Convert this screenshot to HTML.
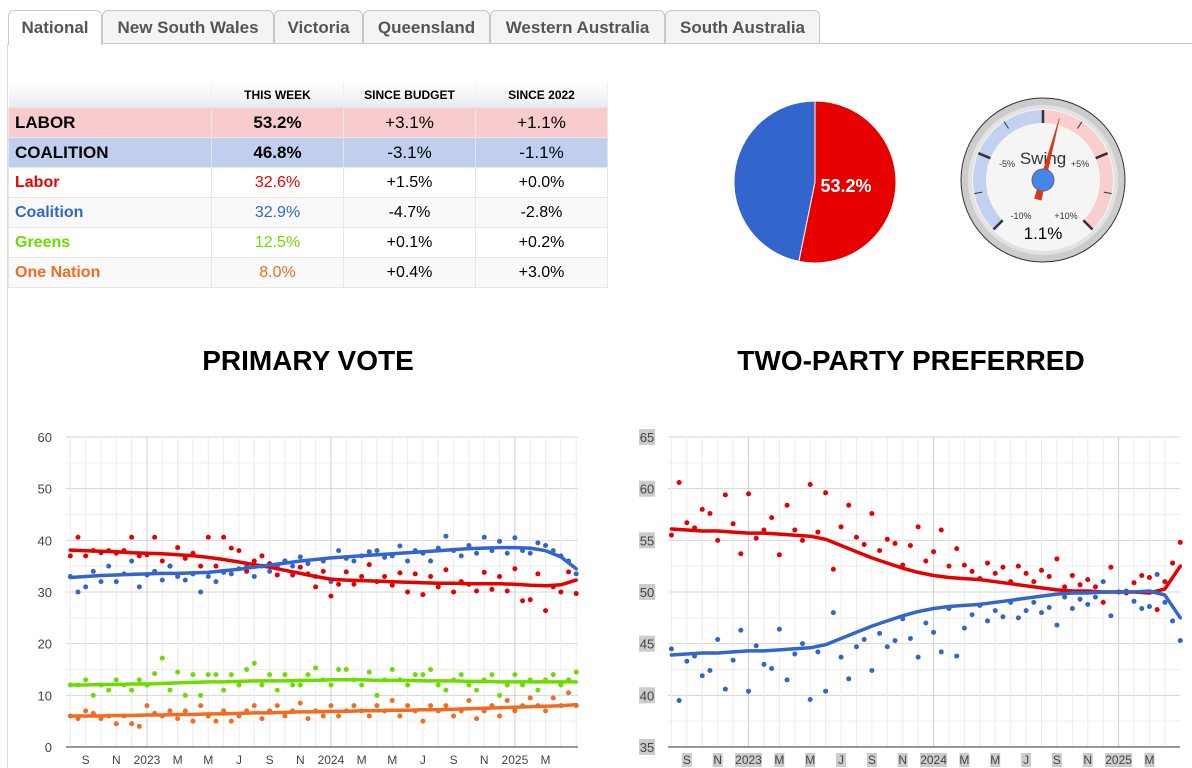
<!DOCTYPE html>
<html><head><meta charset="utf-8">
<style>
body{margin:0;width:1192px;height:768px;overflow:hidden;background:#fff;font-family:"Liberation Sans",Arial,sans-serif;position:relative}
.tab{position:absolute;top:10px;height:33px;border:1px solid #c8c8c8;border-bottom:none;border-radius:6px 6px 0 0;background:#f4f4f4;color:#555;font-weight:bold;font-size:17px;line-height:33px;text-align:center;box-sizing:border-box}
.tab.act{background:#fff;height:35px}
table{position:absolute;left:8px;top:83px;border-collapse:collapse;font-size:16px;table-layout:fixed;width:599px}
td{height:30px;border:1px solid #e6e6e6;text-align:center;padding:0;box-sizing:border-box}
td:first-child{text-align:left;padding-left:6px;font-weight:bold}
th{height:24px;font-size:12px;background:linear-gradient(#fff,#e8ecf3);border-right:1px solid #eee;padding:0}
.ttl{position:absolute;top:345px;font-weight:bold;font-size:28px;text-align:center;width:400px}
svg{position:absolute;left:0;top:0}
</style></head><body>
<div class="tab act" style="left:8px;width:94px">National</div>
<div class="tab" style="left:102px;width:172px">New South Wales</div>
<div class="tab" style="left:274px;width:89px">Victoria</div>
<div class="tab" style="left:363px;width:127px">Queensland</div>
<div class="tab" style="left:490px;width:175px">Western Australia</div>
<div class="tab" style="left:665px;width:155px">South Australia</div>
<div style="position:absolute;left:102px;top:43px;width:1090px;height:1px;background:#c8c8c8"></div>
<div style="position:absolute;left:7px;top:43px;width:1px;height:725px;background:#ddd"></div>

<table>
<colgroup><col style="width:203px"><col style="width:132px"><col style="width:132px"><col style="width:132px"></colgroup>
<tr><th></th><th>THIS WEEK</th><th>SINCE BUDGET</th><th>SINCE 2022</th></tr>
<tr style="background:#f8cccc;font-size:17px"><td>LABOR</td><td><b>53.2%</b></td><td>+3.1%</td><td>+1.1%</td></tr>
<tr style="background:#c1cfee;font-size:17px"><td>COALITION</td><td><b>46.8%</b></td><td>-3.1%</td><td>-1.1%</td></tr>
<tr><td style="color:#e00">Labor</td><td style="color:#e00">32.6%</td><td>+1.5%</td><td>+0.0%</td></tr>
<tr style="background:#f9f9f9"><td style="color:#3366cc">Coalition</td><td style="color:#3366cc">32.9%</td><td>-4.7%</td><td>-2.8%</td></tr>
<tr><td style="color:#6ddc00">Greens</td><td style="color:#6ddc00">12.5%</td><td>+0.1%</td><td>+0.2%</td></tr>
<tr style="background:#f9f9f9"><td style="color:#f26b21">One Nation</td><td style="color:#f26b21">8.0%</td><td>+0.4%</td><td>+3.0%</td></tr>
</table>

<div class="ttl" style="left:108px">PRIMARY VOTE</div>
<div class="ttl" style="left:711px">TWO-PARTY PREFERRED</div>

<svg id="s" width="1192" height="768" font-family="Liberation Sans, Arial, sans-serif"></svg>
<script>
// ---- data ----
const pieValues=[53.2,46.8];
const swingValue=1.1;
const trendTimes=[1,2,3,4,5,6,7,8,9,10,11,12,13,14,15,16,17,18,19,20,21,22,23,24,25,26,27,28,29,30,31,32,33,34];
const laborTrend=[38.1,38.0,37.9,37.8,37.6,37.5,37.4,37.2,37.0,36.7,36.3,35.8,35.3,34.8,34.2,33.6,33.0,32.5,32.3,32.2,32.1,32.0,31.9,31.8,31.7,31.7,31.6,31.6,31.6,31.5,31.3,31.2,31.4,32.3];
const coalitionTrend=[32.8,33.0,33.2,33.3,33.4,33.5,33.6,33.6,33.7,33.8,34.1,34.4,34.8,35.2,35.6,36.0,36.3,36.6,36.8,37.0,37.2,37.4,37.6,37.8,38.0,38.2,38.4,38.5,38.6,38.6,38.5,38.0,36.8,34.5];
const greensTrend=[12.0,12.0,12.1,12.1,12.2,12.2,12.3,12.4,12.5,12.6,12.6,12.7,12.8,12.8,12.8,12.9,12.9,13.0,13.0,13.0,12.9,12.9,12.9,12.8,12.8,12.8,12.7,12.7,12.6,12.6,12.6,12.6,12.6,12.6];
const onTrend=[6.0,6.0,6.0,6.1,6.1,6.2,6.2,6.3,6.3,6.4,6.4,6.5,6.6,6.6,6.7,6.8,6.8,6.9,6.9,7.0,7.0,7.1,7.1,7.2,7.2,7.3,7.4,7.5,7.6,7.7,7.8,7.9,8.0,8.2];
const tppLaborTrend=[56.1,56.0,55.9,55.9,55.8,55.7,55.7,55.6,55.5,55.4,55.1,54.5,53.9,53.3,52.8,52.3,51.9,51.6,51.4,51.3,51.2,51.0,50.8,50.6,50.4,50.2,50.1,50.1,50.0,50.0,50.0,49.9,50.3,52.5];
const tppCoalitionTrend=[43.9,44.0,44.1,44.1,44.2,44.3,44.3,44.4,44.5,44.6,44.9,45.5,46.1,46.7,47.2,47.7,48.1,48.4,48.6,48.7,48.8,49.0,49.2,49.4,49.6,49.8,49.9,49.9,50.0,50.0,50.0,50.1,49.7,47.5];
const pollTimes=[1,1.5,2,2.5,3,3.5,4,4.5,5,5.5,6,6.5,7,7.5,8,8.5,9,9.5,10,10.5,11,11.5,12,12.5,13,13.5,14,14.5,15,15.5,16,16.5,17,17.5,18,18.5,19,19.5,20,20.5,21,21.5,22,22.5,23,23.5,24,24.5,25,25.5,26,26.5,27,27.5,28,28.5,29,29.5,30,30.5,31,31.5,32,32.5,33,33.5,34];
const laborPolls=[37,40.6,37,38,37.6,38,37.5,38,40.6,37,37.2,40.6,36,35,38.6,36.5,37.5,35,40.6,35,40.6,38.5,38,34,36,37,35.5,33.3,36,33.3,34.8,33.5,31,34,29.2,31.5,33.9,31.5,33,35.3,32,33,31.3,33.7,30,33.5,29.5,33,31,34.3,30,32,31.5,30.2,33.8,30.5,33,30.2,34.5,28.3,28.5,33.5,26.4,31,30,33.9,29.7];
const coalitionPolls=[33,30,31,34,32,35,32,33.5,36,31,33.3,34,32.3,35,33,32.3,33.5,30,33,32,33.8,33.5,34.5,35,33,35,34,35,36,35,36.8,35.5,33,36,32,38,36.5,36,37,37.8,38,36.7,37,38.9,36,38,37.5,36,38.5,40.8,38,37,39,37.5,40.6,38,39.8,37.5,40.5,38,37.5,39.5,39,38,37,36,33.5];
const greensPolls=[12,12,13,10,12,11,13,12,11,13,12,14.2,17.2,11,14.5,10,14,10,14,14,11,14,12,15,16.2,12,14,11,14,12,12,14,15.3,13,12,15,15,13,12,14.5,10,13,15,13,12,14,14,15,12,11,13,14,12,11,13,14,10,12,14,12,13,11,13,14,12,13,14.5];
const onPolls=[6,5.5,7,6.5,5.5,6,4.5,6,4.5,4,8,6.5,6,7,5.5,7,5,8,6,5,7,5,6,7,8,5.5,7,8,6,7,8.5,5.5,7,6,8,6,7,8,7,6,8,7,9,6,8,7,5,8,7,8,6,7,9,5.5,7,8,6,9,7,8,9.5,8,7,9.5,8,10.5,8];
const tppLaborPolls=[55.5,60.6,56.7,56.2,58,57.6,55,59.4,56.6,53.7,59.5,55.2,56,57.2,53.6,58.4,56,55,60.4,55.8,59.6,52.2,56.3,58.4,55.3,54.6,57.6,54,55.1,54.7,52.6,54.5,56.3,53,53.9,56,52.5,54.2,52.6,52,51.3,52.8,51.8,52.4,51,52.5,51.8,51,52.1,51.5,53.2,50.5,51.6,50.7,51.2,50.5,49,52.4,50,49.9,50.9,51.6,51.4,48.3,51,52.8,54.8];
const tppCoalitionPolls=[44.5,39.5,43.3,43.8,41.9,42.4,45.4,40.6,43.4,46.3,40.4,44.8,43,42.6,46.4,41.5,44,45,39.6,44.2,40.4,48,43.7,41.6,44.7,45.4,42.4,46,44.7,45.3,47.4,45.5,43.7,47,46.1,44.2,48.4,43.8,46.5,47.8,48.7,47.2,48.2,47.6,49,47.5,48.2,49,48,48.5,46.8,49.5,48.4,49.3,48.8,49.5,51,47.7,50,50.1,49.1,48.4,48.6,51.7,49,47.2,45.3];
const monthTicks=[2,4,6,8,10,12,14,16,18,20,22,24,26,28,30,32];
const monthLabels=["S","N","2023","M","M","J","S","N","2024","M","M","J","S","N","2025","M"];
const primYTicks=[0,10,20,30,40,50,60];
const tppYTicks=[35,40,45,50,55,60,65];

const NS='http://www.w3.org/2000/svg';
const S=document.getElementById('s');
function el(tag,attrs,parent){const e=document.createElementNS(NS,tag);for(const k in attrs)e.setAttribute(k,attrs[k]);(parent||S).appendChild(e);return e;}

// ---- pie ----
(function(){
 const g=el('g',{});
 
 
 const cx=815,cy=182,r=81;
 const total=pieValues[0]+pieValues[1];
 const a=pieValues[0]/total*2*Math.PI;
 const ex=cx+r*Math.sin(a),ey=cy-r*Math.cos(a);
 const p1=el('path',{d:`M${cx},${cy}L${cx},${cy-r}A${r},${r} 0 ${a>Math.PI?1:0} 1 ${ex},${ey}Z`,fill:'#e60000',stroke:'#fff','stroke-width':1},g);
 
 
 const p2=el('path',{d:`M${cx},${cy}L${ex},${ey}A${r},${r} 0 ${a>Math.PI?0:1} 1 ${cx},${cy-r}Z`,fill:'#3366cc',stroke:'#fff','stroke-width':1},g);
 
 
 const t=el('text',{x:846,y:192,fill:'#fff','font-size':18,'font-weight':'bold','text-anchor':'middle'},g);
 t.textContent=pieValues[0].toFixed(1)+'%';
 
 
})();

// ---- gauge ----
(function(){
 const g=el('g',{});
 
 
 const cx=1043,cy=180;
 el('circle',{cx,cy,r:82,fill:'#ccc',stroke:'#333','stroke-width':1},g);
 el('circle',{cx,cy,r:75,fill:'#e2e2e2'},g);
 el('circle',{cx,cy,r:71,fill:'#f5f5f5'},g);
 const ang=v=>v/10*135*Math.PI/180;
 function band(v0,v1,col){const r1=70,r0=57;const a0=ang(v0),a1=ang(v1);
  const P=(r,a)=>[cx+r*Math.sin(a),cy-r*Math.cos(a)];
  const [x1,y1]=P(r1,a0),[x2,y2]=P(r1,a1),[x3,y3]=P(r0,a1),[x4,y4]=P(r0,a0);
  const lg=Math.abs(a1-a0)>Math.PI?1:0;
  el('path',{d:`M${x1},${y1}A${r1},${r1} 0 ${lg} 1 ${x2},${y2}L${x3},${y3}A${r0},${r0} 0 ${lg} 0 ${x4},${y4}Z`,fill:col},g);}
 band(-10,0,'#c2d1ef');band(0,10,'#f8cece');
 for(let v=-10;v<=10;v+=2.5){const a=ang(v),maj=v%5===0;const r0=maj?57:62,r1=70;
  el('line',{x1:cx+r0*Math.sin(a),y1:cy-r0*Math.cos(a),x2:cx+r1*Math.sin(a),y2:cy-r1*Math.cos(a),stroke:'#333','stroke-width':maj?2.5:1},g);}
 const lbl=[[-5,'-5%',1007,167],[5,'+5%',1080,167],[-10,'-10%',1021,219],[10,'+10%',1066,219]];
 lbl.forEach(l=>{const t=el('text',{x:l[2],y:l[3],'font-size':9,'text-anchor':'middle',fill:'#333'},g);t.textContent=l[1];});
 const sw=el('text',{x:cx,y:164,'font-size':17,'text-anchor':'middle',fill:'#333'},g);sw.textContent='Swing';
 const a=ang(swingValue);const L=64,bl=-20;
 const tx=cx+L*Math.sin(a),ty=cy-L*Math.cos(a),bx=cx+bl*Math.sin(a),by=cy-bl*Math.cos(a);
 const px=Math.cos(a)*3.5,py=Math.sin(a)*3.5;
 const n=el('path',{d:`M${tx},${ty}L${bx+px},${by+py}L${bx-px},${by-py}Z`,fill:'#dc3912',stroke:'#c63310','stroke-width':0.5},g);
 
 
 el('circle',{cx,cy,r:11,fill:'#4684ee',stroke:'#666','stroke-width':1},g);
 const vt=el('text',{x:cx,y:239,'font-size':17,'text-anchor':'middle',fill:'#000'},g);vt.textContent=swingValue.toFixed(1)+'%';
 
 
})();

// ---- line/scatter charts ----
function chart(cfg){
 const g=el('g',{});
 
 
 const X=t=>cfg.x0+t*cfg.mw;
 const Y=v=>cfg.yTop+(cfg.yMax-v)/(cfg.yMax-cfg.yMin)*(cfg.yBot-cfg.yTop);
 const step=(cfg.yMax-cfg.yMin)/6/2;
 for(let v=cfg.yMin;v<=cfg.yMax+0.01;v+=step){const maj=Math.abs((v-cfg.yMin)/(step*2)-Math.round((v-cfg.yMin)/(step*2)))<0.01;
  el('line',{x1:cfg.left,x2:cfg.right,y1:Y(v),y2:Y(v),stroke:maj?'#d6d6d6':'#ededed','stroke-width':1},g);}
 const tMin=(cfg.left-cfg.x0)/cfg.mw,tMax=(cfg.right-cfg.x0)/cfg.mw;
 for(let t=Math.ceil(tMin);t<=tMax;t++){const yr=(t-6)%12===0;
  el('line',{x1:X(t),x2:X(t),y1:cfg.yTop,y2:cfg.yBot,stroke:yr?'#cfcfcf':'#ececec','stroke-width':1},g);}
 el('line',{x1:cfg.left,x2:cfg.right,y1:cfg.yBot,y2:cfg.yBot,stroke:'#333','stroke-width':1},g);
 cfg.yTicks.forEach(v=>{
  if(cfg.hl){el('rect',{x:cfg.left-29,y:Y(v)-8,width:16,height:16,fill:'#ccc'},g);}
  const t=el('text',{x:cfg.left-(cfg.hl?21:14),y:Y(v)+5,'font-size':13,'text-anchor':cfg.hl?'middle':'end',fill:'#444'},g);t.textContent=v;
  
  
 });
 monthTicks.forEach((m,i)=>{const lb=monthLabels[i];
  if(cfg.hl){const w=lb.length>1?27:10;el('rect',{x:X(m)-w/2,y:cfg.yBot+6,width:w,height:14,fill:'#ccc'},g);}
  const t=el('text',{x:X(m),y:cfg.yBot+17,'font-size':12,'text-anchor':'middle',fill:'#444'},g);t.textContent=lb;
  
  
 });
 cfg.series.forEach(s=>{
  s.polls.forEach((v,i)=>{const c=el('circle',{cx:X(pollTimes[i]),cy:Y(v),r:2.5,fill:s.color},g);
   
   });
 });
 cfg.series.forEach(s=>{
  let d='';s.trend.forEach((v,i)=>{d+=(i?'L':'M')+X(trendTimes[i]).toFixed(1)+','+Y(v).toFixed(1);});
  const p=el('path',{d,fill:'none',stroke:s.color,'stroke-width':3.5,'stroke-linejoin':'round','stroke-linecap':'round'},g);
  
  
 });
}
chart({name:'primary-vote-chart',x0:55,mw:15.33,left:66,right:578,yTop:437,yBot:747,yMin:0,yMax:60,yTicks:primYTicks,hl:false,
 series:[{key:'one-nation',color:'#f26b21',polls:onPolls,trend:onTrend},{key:'greens',color:'#6ddc00',polls:greensPolls,trend:greensTrend},
 {key:'labor',color:'#e60000',polls:laborPolls,trend:laborTrend},{key:'coalition',color:'#3366cc',polls:coalitionPolls,trend:coalitionTrend}]});
chart({name:'tpp-chart',x0:656,mw:15.42,left:668,right:1180,yTop:437,yBot:747,yMin:35,yMax:65,yTicks:tppYTicks,hl:true,
 series:[{key:'tpp-labor',color:'#e60000',polls:tppLaborPolls,trend:tppLaborTrend},{key:'tpp-coalition',color:'#3366cc',polls:tppCoalitionPolls,trend:tppCoalitionTrend}]});
</script>
</body></html>
